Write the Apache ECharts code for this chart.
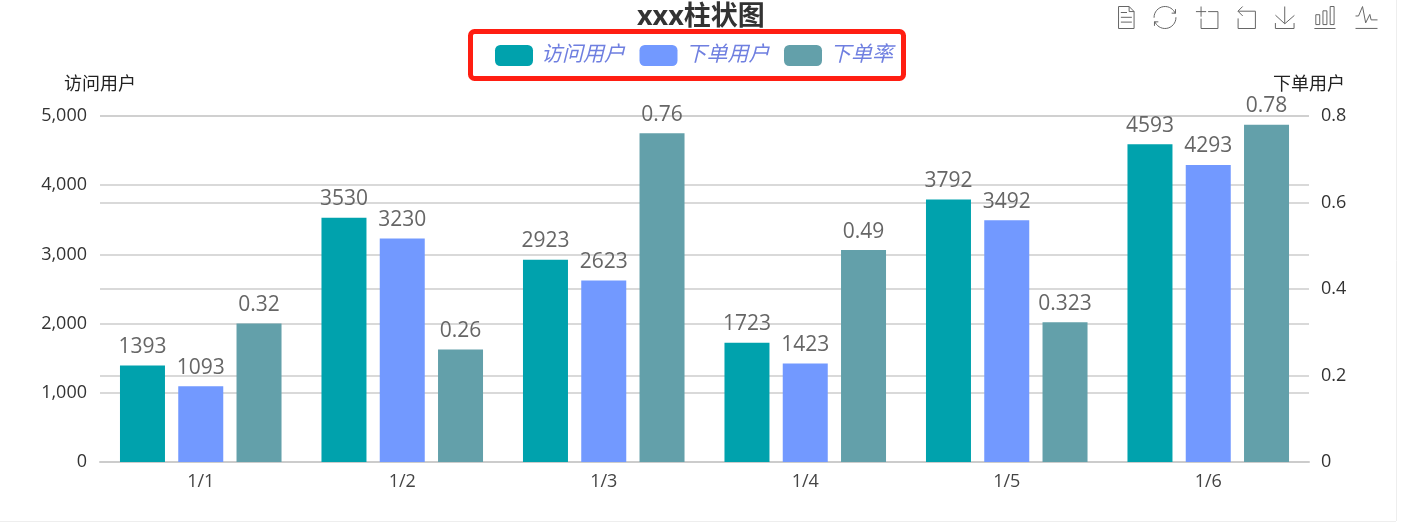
<!DOCTYPE html>
<html><head><meta charset="utf-8">
<style>html,body{margin:0;padding:0;background:#fff}#c{width:1407px;height:526px}</style>
<script src="https://cdn.jsdelivr.net/npm/echarts@6/dist/echarts.min.js"></script>
</head><body><div id="c"></div>
<script>
const categories = ['1/1','1/2','1/3','1/4','1/5','1/6'];
const visitUsers = [1393,3530,2923,1723,3792,4593];
const orderUsers = [1093,3230,2623,1423,3492,4293];
const orderRate = [0.32,0.26,0.76,0.49,0.323,0.78];
const seriesNames = ['访问用户','下单用户','下单率'];
const FONT = '"Open Sans","Noto Sans CJK SC",sans-serif';
const label = {show:true,position:'top',distance:8,fontSize:21,color:'#666',fontFamily:FONT};
const mkSeries = (name,data,color,axis)=>({
  name,type:'bar',data,yAxisIndex:axis,barWidth:45,barGap:'29.5%',
  itemStyle:{color,borderWidth:0},label
});
const chart = echarts.init(document.getElementById('c'));
chart.setOption({
  animation:false,
  backgroundColor:'#fff',
  textStyle:{fontFamily:FONT},
  title:{text:'xxx柱状图',left:632,top:-1,textStyle:{fontSize:27,fontWeight:'bold',color:'#333',fontFamily:FONT}},
  legend:{data:seriesNames,left:490,top:40,itemWidth:38,itemHeight:21,itemGap:14.5,
    textStyle:{fontSize:21,fontStyle:'italic',color:'#6f7fe0',padding:[0,0,0,3],fontFamily:FONT}},
  toolbox:{right:12,top:-11,itemSize:22,itemGap:15,iconStyle:{borderColor:'#666'},
    feature:{dataView:{show:true},restore:{show:true},dataZoom:{show:true},saveAsImage:{show:true},magicType:{show:true,type:['bar','line']}}},
  grid:{left:100,right:98,top:116,bottom:64},
  xAxis:{type:'category',data:categories,
    axisLine:{lineStyle:{color:'#ccc',width:2}},axisTick:{show:false},
    axisLabel:{fontSize:18,color:'#444',margin:11}},
  yAxis:[
    {type:'value',name:'访问用户',min:0,max:5000,interval:1000,
     nameTextStyle:{fontSize:18,color:'#222',padding:[0,0,6,0]},nameGap:16,
     axisLabel:{fontSize:18,color:'#333',margin:13,formatter:v=>v.toLocaleString('en-US')},
     axisLine:{show:false},axisTick:{show:false},splitLine:{lineStyle:{color:'#ccc',width:1.5}}},
    {type:'value',name:'下单用户',min:0,max:0.8,interval:0.2,
     nameTextStyle:{fontSize:18,color:'#222',padding:[0,0,6,0]},nameGap:16,
     axisLabel:{fontSize:18,color:'#333',margin:12},
     axisLine:{show:false},axisTick:{show:false},splitLine:{lineStyle:{color:'#ccc',width:1.5}}}
  ],
  series:[
    mkSeries(seriesNames[0],visitUsers,'#00a2ad',0),
    mkSeries(seriesNames[1],orderUsers,'#7299ff',0),
    mkSeries(seriesNames[2],orderRate,'#63a0aa',1)
  ],
  graphic:[
    {type:'rect',shape:{x:470.5,y:31.5,width:433,height:47,r:4},style:{fill:'none',stroke:'#ff1e12',lineWidth:5},silent:true},
    {type:'line',shape:{x1:1396.5,y1:0,x2:1396.5,y2:521},style:{stroke:'#eee',lineWidth:1},silent:true},
    {type:'line',shape:{x1:0,y1:521.5,x2:1396,y2:521.5},style:{stroke:'#eee',lineWidth:1},silent:true}
  ]
});
</script></body></html>
